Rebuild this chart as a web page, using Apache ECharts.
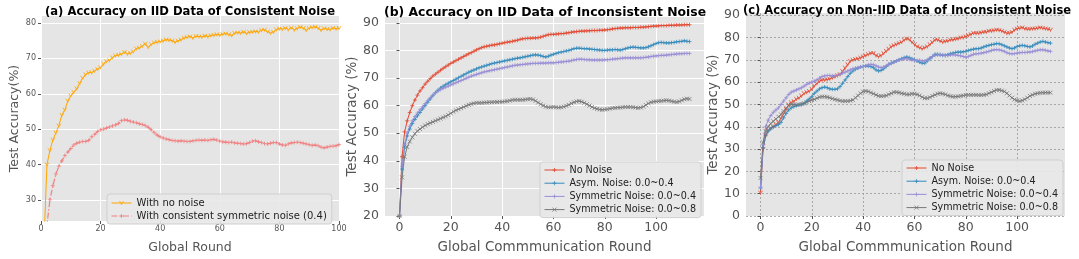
<!DOCTYPE html>
<html><head><meta charset="utf-8">
<script src="https://cdn.jsdelivr.net/npm/echarts@6/dist/echarts.min.js"></script>
<style>html,body{margin:0;padding:0;background:#fff}#c{width:1079px;height:259px}</style>
</head><body><div id="c"></div>
<script>
// ---- Panel (a): x = 1..100
const roundsAStart = 1;
const aNoNoise = [18,40,44,47,49,51,54,55.5,58,59.5,60.5,61.5,63,64.5,65.5,66,66,66.5,67,67.5,
68.5,69.2,69.5,70.3,70.8,71,71.2,71.8,71.3,71.5,72,72.8,73,73.5,74.2,73.2,74,74.5,74.6,74.8,
75,75.3,75.2,75,74.6,75,75.3,75.8,76,76.2,75.8,76.3,76.2,76.1,76.4,76.2,76.5,76.6,76.8,76.6,
76.9,77,76.8,76.5,77.2,77.3,77.2,77.5,77.1,77.4,77.5,77.6,77.5,78,78.1,77.6,77.2,77.5,78.2,78.4,
78.3,78.6,78.2,78.7,78.1,78.5,78.9,78.6,78,78.6,78.8,78.9,78.6,78,78.5,78.3,78.2,78.6,78.4,78.6];
const aSymNoise = [15,23,30,34,37.3,39.5,41,42.5,43.5,44.5,45.5,46,46.3,46.5,46.5,46.8,47.8,48.5,49.3,49.8,
50,50.3,50.6,50.9,51.2,51.6,52.4,52.6,52.5,52.2,52,51.8,51.5,51.3,51,50.5,49.8,49,48.3,47.8,
47.5,47.2,47,46.8,46.7,46.6,46.7,46.6,46.5,46.5,46.7,46.8,46.9,46.8,46.9,46.8,47,47.1,46.9,46.6,
46.4,46.3,46.2,46.3,46.1,46,45.9,45.8,45.9,46.2,46.6,46.7,46.4,46.2,45.9,45.8,46,46.2,46.2,45.8,
45.5,45.4,45.8,46.1,46.2,46.3,46.2,46,45.8,45.6,45.4,45.5,45.3,44.9,44.7,44.9,45.1,45.2,45.3,45.6];

// ---- Panel (b): x = 0..113
const bNoNoise = [20,41.5,50.5,54.5,57.5,60,62,63.8,65.3,66.5,67.8,68.8,69.8,70.7,71.4,72.1,72.8,73.5,74.1,74.7,
75.3,75.8,76.3,76.8,77.3,77.8,78.3,78.8,79.2,79.7,80.2,80.6,81,81.3,81.5,81.7,81.9,82,82.2,82.4,
82.6,82.8,83,83.1,83.3,83.5,83.7,84,84.2,84.3,84.4,84.4,84.5,84.5,84.6,84.8,85.1,85.4,85.7,85.8,
85.8,85.9,86,86.1,86.1,86.3,86.4,86.6,86.7,86.8,86.9,87,87,87.1,87.1,87.2,87.2,87.2,87.3,87.3,
87.4,87.5,87.6,87.8,87.9,88,88.1,88.1,88.2,88.2,88.2,88.3,88.3,88.3,88.4,88.4,88.5,88.6,88.7,88.8,
88.8,88.9,89,89,89,89.1,89.1,89.1,89.2,89.2,89.2,89.3,89.3,89.3];
const bAsym04 = [20,37,45,49,51.5,53.5,55,56.3,57.5,58.8,60,61.2,62.4,63.6,64.7,65.6,66.4,67,67.6,68.1,
68.6,69.1,69.6,70.1,70.6,71.1,71.6,72.1,72.5,72.9,73.3,73.7,74,74.3,74.6,74.9,75.2,75.4,75.6,75.8,
76,76.2,76.4,76.6,76.8,77,77.2,77.3,77.5,77.7,77.9,78.1,78.3,78.4,78.3,78.1,77.8,77.6,77.9,78.3,
78.6,78.9,79.2,79.4,79.6,79.8,80,80.3,80.6,80.8,80.8,80.7,80.6,80.6,80.5,80.4,80.3,80.2,80.1,80,
80,80.1,80.2,80.2,80.3,80.2,80.1,80.3,80.6,80.9,81.1,81.2,81.1,81,80.9,80.9,81,81.3,81.7,82.1,
82.5,82.8,82.9,82.8,82.7,82.7,82.8,82.9,83.1,83.2,83.3,83.5,83.3,83.2];
const bSym04 = [20,38,46,50,52.5,54.5,56,57.3,58.5,59.6,60.7,61.8,62.8,63.8,64.6,65.3,65.8,66.3,66.7,67.1,
67.5,67.9,68.3,68.7,69.1,69.5,69.9,70.3,70.7,71,71.3,71.6,71.9,72.2,72.4,72.6,72.8,73,73.2,73.4,
73.6,73.8,74,74.2,74.4,74.6,74.7,74.8,74.9,75,75.1,75.2,75.3,75.3,75.3,75.4,75.4,75.4,75.5,75.5,
75.5,75.6,75.7,75.8,75.9,76,76.1,76.3,76.5,76.7,76.8,76.8,76.7,76.6,76.6,76.5,76.5,76.5,76.5,76.5,
76.6,76.6,76.7,76.8,76.9,77,77.1,77.2,77.3,77.3,77.3,77.3,77.3,77.3,77.3,77.4,77.5,77.6,77.8,77.9,
78,78.1,78.2,78.2,78.3,78.4,78.5,78.6,78.7,78.8,78.8,78.9,78.9,78.9];
const bSym08 = [20,34,41.5,45,47,48.5,49.8,50.8,51.5,52.2,52.8,53.3,53.7,54.1,54.5,54.9,55.3,55.7,56.1,56.6,
57.2,57.8,58.3,58.7,59.1,59.5,59.9,60.3,60.6,60.8,61,61,61,61.1,61.1,61.2,61.2,61.3,61.3,61.4,
61.4,61.5,61.6,61.8,62,62.1,62.1,62.1,62.1,62.2,62.3,62.4,62.2,61.7,61.1,60.5,60,59.6,59.4,59.4,
59.5,59.4,59.3,59.4,59.6,59.9,60.3,60.8,61.2,61.5,61.6,61.4,61,60.5,60,59.5,59.1,58.8,58.6,58.5,
58.6,58.7,58.9,59.1,59.2,59.3,59.3,59.4,59.5,59.5,59.5,59.4,59.3,59.2,59.3,59.6,60.2,60.8,61.2,61.4,
61.5,61.6,61.7,61.8,61.9,61.8,61.6,61.4,61.3,61.5,61.9,62.3,62.5,62.4];

// ---- Panel (c): x = 0..113
const cNoNoise = [10.5,30,36,38.5,39.5,40,41,42,44,46,48,50,51,51.5,52.5,53,54,55,55.5,56,
57,58.5,59.5,60.5,61,61,61.2,61.5,62,62.5,63,63.5,65,66.5,68,69.5,70,70.3,70.5,71,
71.5,72,72.5,73,73,72,71.5,72,73,74,75,76,76.5,77,77.5,78,79,79.5,79.2,78,
77,76,75.5,75,75.5,76,77,78,79,79,78.5,78,78.3,78.5,79,79,79.3,79.5,80,80,
80.5,81,81.5,82,82,82,82.2,82.5,82.5,83,83,83.2,83.5,83.3,83,82.5,82,82,82.5,83.5,
84,84.2,84.5,84,83.8,83.8,84,84,84.2,84.5,84.2,84,83.8,83.5];
const cAsym04 = [12.5,30.5,36,38,39,40,40.5,41,42,44,46,47.5,48.5,49,49.5,49.8,50,50.5,51.5,52.5,
53.5,55,56,57,57.5,57.8,57.5,57,56.8,56.8,57,58,59.5,61,62.5,64,65,65.8,66.3,66.8,
67,67.2,67.2,67,66.5,65.5,65,65.3,66,67,68,68.5,69,69.5,70,70.5,71,71.3,71,70.5,
70,69.5,69,68.5,68.5,69.5,70.5,71.5,72.5,72.5,72.3,72,72,72.3,72.8,73,73.3,73.5,73.5,73.6,
73.8,74.2,74.5,74.8,75,75,75.3,75.8,76.2,76.5,76.8,77,77.3,77.2,76.8,76.3,75.8,75.3,75,75.3,
76,76.3,76.5,76.3,76,75.8,76.2,77,77.5,78,78.3,78,77.7,77.5];
const cSym04 = [13,32,40,43,45,46.5,47.5,48.5,50,51.5,53,54.5,55.5,56,56.5,57,57.5,58.2,59,59.6,
60,60.5,61,61.8,62.5,62.8,63,63,62.8,62.8,63,63.5,64,64.5,65,65.5,66,66.3,66.5,66.8,
67,67.3,67.8,68,67.8,67.3,66.8,66.5,66.8,67.3,68,68.5,69,69.5,70,70.3,70.5,70.5,70.3,70,
69.8,69.7,69.8,69.5,69.5,70,70.8,71.5,72,72.2,72.3,72.2,72,72,72.2,72.3,72.2,72,71.8,71.5,
71.2,71.5,72,72.5,72.7,72.8,73,73.2,73.5,73.8,74.2,74.5,74.6,74.5,74.2,73.8,73.2,72.8,72.7,72.8,
73,73.2,73.3,73.3,73.4,73.5,73.7,74,74.3,74.5,74.5,74.3,74,73.8];
const cSym08 = [17,33,38,40,41.5,42.5,43.5,44.5,45.5,47,48.5,49.5,50,50,49.8,50,50.2,50.5,51,51.5,
52,52.3,52.8,53.3,53.5,53.5,53.3,53,52.6,52.3,52,51.7,51.5,51.5,51.5,51.7,52,53,54,55,
55.8,56,55.8,55.3,54.8,54.3,53.8,53.7,53.8,54,54.5,55,55.5,55.5,55.3,55,54.8,54.5,54.5,54.8,
54.8,54.5,54,53.3,52.8,52.8,53.2,53.8,54.3,54.8,55,54.8,54.5,54,53.7,53.5,53.5,53.6,53.8,54,
54.2,54.3,54.3,54.3,54.3,54.2,54.2,54.3,54.5,55,55.5,56,56.5,56.5,56.2,55.8,55,54,53,52.2,
51.8,51.5,51.8,52.3,53,53.8,54.3,54.8,55,55.2,55.3,55.3,55.3,55.3];

// ticks
const xTicksA = [0,20,40,60,80,100];
const yTicksA = [30,40,50,60,70,80];
const xTicksBC = [0,20,40,60,80,100];
const yTicksB = [20,30,40,50,60,70,80,90];
const yTicksC = [0,10,20,30,40,50,60,70,80,90];

const FONT = 'DejaVu Sans';
const pair = (arr, start) => arr.map((v, i) => [i + start, v]);
const PLUS = 'path://M0,5L10,5M5,0L5,10';
const CROSS = 'path://M0,0L10,10M10,0L0,10';
const TRI = 'path://M0,0L5,8L10,0M5,8L5,10';

function mkAxis(idx, min, max, ticks, name, opts) {
  return {
    gridIndex: idx, type: 'value', min, max, name, nameLocation: 'middle', nameGap: opts.nameGap,
    nameTextStyle: {fontFamily: FONT, fontSize: opts.nameSize, color: '#555'},
    axisLine: {show: false},
    axisTick: {show: true, length: 3, lineStyle: {color: '#555'}, customValues: ticks},
    axisLabel: {customValues: ticks, fontFamily: FONT, fontSize: opts.labelSize, color: '#555', margin: opts.labelMargin},
    splitLine: {show: true, lineStyle: opts.split}
  };
}
function line(name, idx, data, color, symbol, extra) {
  return Object.assign({
    name, type: 'line', xAxisIndex: idx, yAxisIndex: idx, data,
    symbol, symbolSize: 4, showAllSymbol: true, clip: true,
    lineStyle: {color, width: 1},
    itemStyle: {color: 'rgba(0,0,0,0)', borderColor: color, borderWidth: 0.8},
    emphasis: {disabled: true}, animation: false
  }, extra || {});
}

const whiteSplit = {color: '#ffffff', width: 1};
const dashSplit = {color: '#999999', width: 0.8, type: [2, 2]};

const legendText = {fontFamily: FONT, fontSize: 9.6, color: '#222'};
const legendBase = {
  orient: 'vertical', itemWidth: 20, itemHeight: 5, itemGap: 3.2,
  backgroundColor: 'rgba(232,232,232,0.9)', borderColor: '#cfcfcf', borderWidth: 1, borderRadius: 3,
  padding: [3, 5, 3, 4], textStyle: legendText, selectedMode: false,
  lineStyle: {width: 1}, itemStyle: {borderWidth: 0.8}
};

const chart = echarts.init(document.getElementById('c'), null, {renderer: 'canvas'});
chart.setOption({
  animation: false,
  backgroundColor: '#ffffff',
  title: [
    {text: '(a) Accuracy on IID Data of Consistent Noise', left: 40, top: 1, textStyle: {fontFamily: FONT, fontWeight: 'bold', fontSize: 11.6, color: '#000'}},
    {text: '(b) Accuracy on IID Data of Inconsistent Noise', left: 379, top: 2, textStyle: {fontFamily: FONT, fontWeight: 'bold', fontSize: 12.4, color: '#000'}},
    {text: '(c) Accuracy on Non-IID Data of Inconsistent Noise', left: 738, top: 0, textStyle: {fontFamily: FONT, fontWeight: 'bold', fontSize: 11.5, color: '#000'}}
  ],
  grid: [
    {left: 41, top: 16, width: 298, height: 214, show: true, backgroundColor: '#E5E5E5', borderWidth: 0},
    {left: 385, top: 17, width: 319, height: 208, show: true, backgroundColor: '#E5E5E5', borderWidth: 0},
    {left: 746, top: 13, width: 319, height: 210, show: true, backgroundColor: '#E5E5E5', borderWidth: 0}
  ],
  xAxis: [
    mkAxis(0, 0, 100, xTicksA, 'Global Round', {nameGap: 20, nameSize: 12.5, labelSize: 8, labelMargin: 4, split: whiteSplit}),
    mkAxis(1, -5.65, 118.65, xTicksBC, 'Global Commmunication Round', {nameGap: 24, nameSize: 13.5, labelSize: 12.5, labelMargin: 5, split: whiteSplit}),
    mkAxis(2, -5.65, 118.65, xTicksBC, 'Global Commmunication Round', {nameGap: 24, nameSize: 13.5, labelSize: 12.5, labelMargin: 5, split: dashSplit})
  ],
  yAxis: [
    mkAxis(0, 24, 82, yTicksA, 'Test Accuracy(%)', {nameGap: 20, nameSize: 12.5, labelSize: 8, labelMargin: 5, split: whiteSplit}),
    mkAxis(1, 20, 92.1, yTicksB, 'Test Accuracy (%)', {nameGap: 25, nameSize: 13.5, labelSize: 12.5, labelMargin: 6, split: whiteSplit}),
    mkAxis(2, 0, 91, yTicksC, 'Test Accuracy (%)', {nameGap: 26, nameSize: 13.5, labelSize: 12.5, labelMargin: 6, split: dashSplit})
  ],
  legend: [
    Object.assign({}, legendBase, {left: 107, top: 194, itemGap: 3, padding: [4, 5, 3, 4], textStyle: Object.assign({}, legendText, {fontSize: 10}),
      data: ['With no noise', 'With consistent symmetric noise (0.4)']}),
    Object.assign({}, legendBase, {left: 540, top: 162,
      data: ['No Noise', 'Asym. Noise: 0.0~0.4', 'Symmetric Noise: 0.0~0.4', 'Symmetric Noise: 0.0~0.8']}),
    Object.assign({}, legendBase, {left: 902, top: 160,
      data: ['No Noise', 'Asym. Noise: 0.0~0.4', 'Symmetric Noise: 0.0~0.4', 'Symmetric Noise: 0.0~0.8']})
  ],
  series: [
    line('With no noise', 0, pair(aNoNoise, roundsAStart), '#FFA500', TRI),
    line('With consistent symmetric noise (0.4)', 0, pair(aSymNoise, roundsAStart), '#F08080', PLUS,
      {lineStyle: {color: '#F08080', width: 1.2, type: [6, 2, 1.5, 2]}}),
    line('No Noise', 1, pair(bNoNoise, 0), '#E24A33', PLUS),
    line('Asym. Noise: 0.0~0.4', 1, pair(bAsym04, 0), '#348ABD', PLUS),
    line('Symmetric Noise: 0.0~0.4', 1, pair(bSym04, 0), '#988ED5', PLUS),
    line('Symmetric Noise: 0.0~0.8', 1, pair(bSym08, 0), '#777777', CROSS),
    line('No Noise', 2, pair(cNoNoise, 0), '#E24A33', TRI),
    line('Asym. Noise: 0.0~0.4', 2, pair(cAsym04, 0), '#348ABD', PLUS),
    line('Symmetric Noise: 0.0~0.4', 2, pair(cSym04, 0), '#988ED5', PLUS),
    line('Symmetric Noise: 0.0~0.8', 2, pair(cSym08, 0), '#777777', CROSS)
  ]
});
</script></body></html>
